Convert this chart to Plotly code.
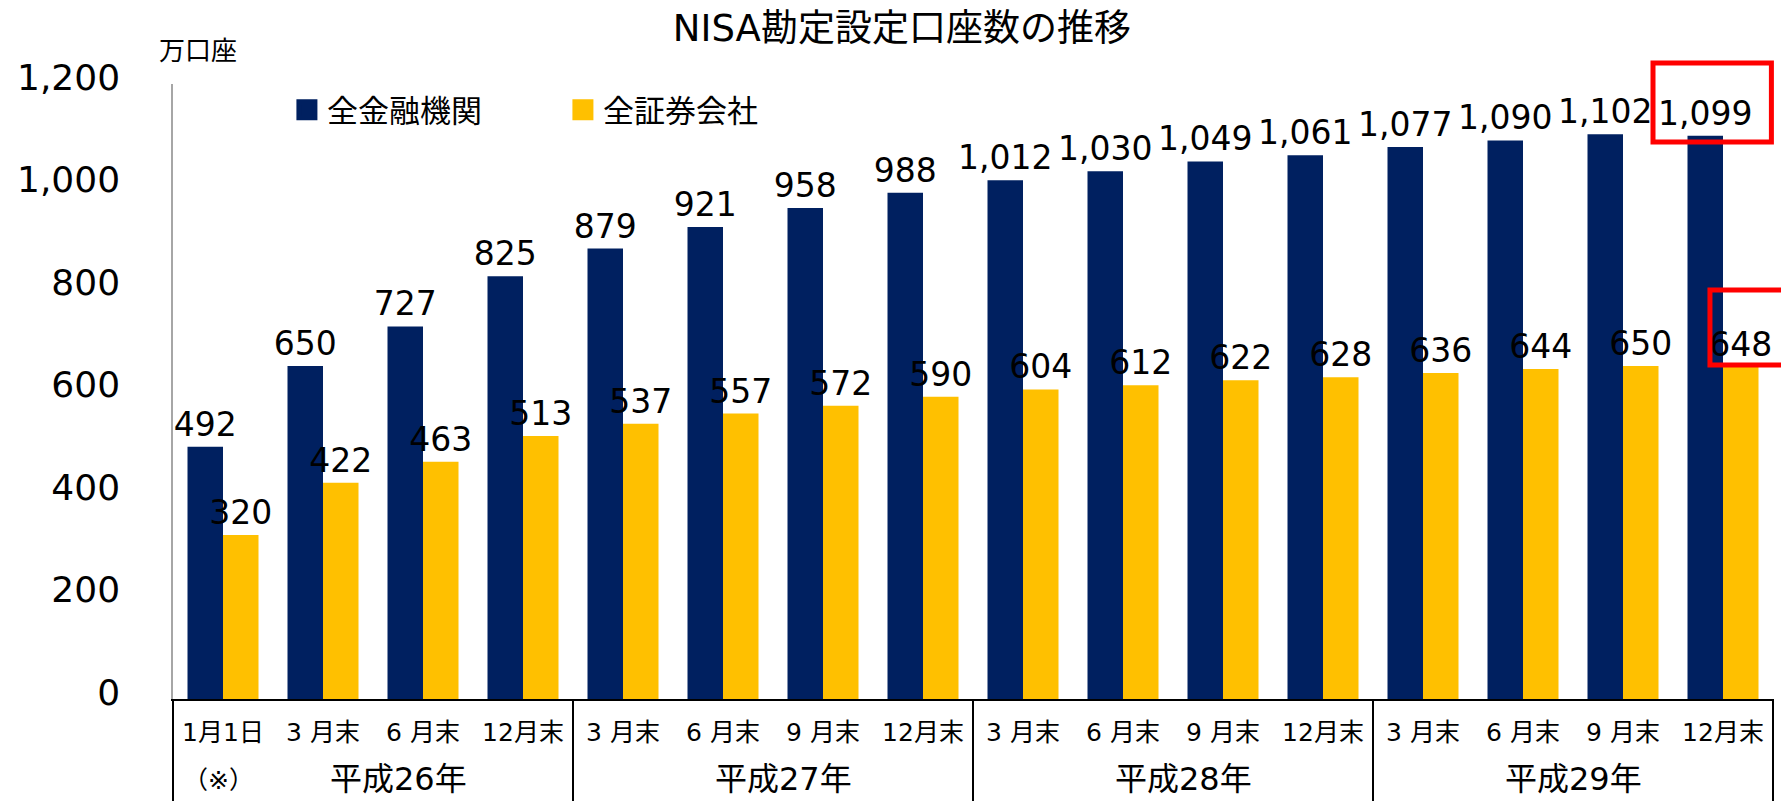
import plotly.graph_objects as go

# ---- data ----
month_labels = ["1月1日", "3 月末", "6 月末", "12月末",
                "3 月末", "6 月末", "9 月末", "12月末",
                "3 月末", "6 月末", "9 月末", "12月末",
                "3 月末", "6 月末", "9 月末", "12月末"]
year_labels = ["平成26年", "平成27年", "平成28年", "平成29年"]
year_sizes = [4, 4, 4, 4]
all_fin = [492, 650, 727, 825, 879, 921, 958, 988, 1012, 1030, 1049, 1061, 1077, 1090, 1102, 1099]
all_sec = [320, 422, 463, 513, 537, 557, 572, 590, 604, 612, 622, 628, 636, 644, 650, 648]
series_names = ["全金融機関", "全証券会社"]
y_ticks = [0, 200, 400, 600, 800, 1000, 1200]

NAVY = "#002060"
GOLD = "#FFC000"
FONT = "DejaVu Sans, Noto Sans CJK JP, sans-serif"

xs = list(range(len(month_labels)))

fig = go.Figure()
for name, vals, col in [(series_names[0], all_fin, NAVY), (series_names[1], all_sec, GOLD)]:
    fig.add_trace(go.Bar(
        x=xs, y=vals, name=name, legendgroup=name, showlegend=False,
        marker=dict(color=col, line=dict(width=0)),
        texttemplate="%{y:,}", textposition="outside", constraintext="none",
        textfont=dict(size=33, color="#000000", family=FONT),
        cliponaxis=False,
    ))
    # legend entry (larger square symbol)
    fig.add_trace(go.Scatter(
        x=[None], y=[None], mode="markers", name=name, legendgroup=name,
        marker=dict(symbol="square", size=16, color=col, line=dict(color=col, width=5)),
    ))

# year group separators and labels
shapes = []
annotations = []
n = len(month_labels)
start = 0
bounds = [0]
for lab, sz in zip(year_labels, year_sizes):
    center = start + (sz - 1) / 2
    if start == 0:
        center += 0.25
    elif start + sz < n:
        center += 0.1
    annotations.append(dict(x=center, xref="x", y=-0.13, yref="paper", text=lab,
                            showarrow=False, xanchor="center", yanchor="middle",
                            font=dict(size=32, family=FONT, color="#000000")))
    start += sz
    bounds.append(start)
for b in bounds:
    shapes.append(dict(type="line", xref="paper", yref="paper",
                       x0=b / n, x1=b / n, y0=0, y1=-0.25,
                       line=dict(color="#000000", width=2)))

annotations.append(dict(x=-0.05, xref="x", y=-0.133, yref="paper", text="（※）",
                        showarrow=False, xanchor="center", yanchor="middle",
                        font=dict(size=25, family=FONT, color="#000000")))
annotations.append(dict(x=0.0155, xref="paper", y=1.054, yref="paper", text="万口座",
                        showarrow=False, xanchor="center", yanchor="middle",
                        font=dict(size=26, family=FONT, color="#000000")))

# red highlight boxes
shapes.append(dict(type="rect", xref="paper", yref="paper",
                   x0=0.925, x1=0.999, y0=0.9057, y1=1.0341,
                   line=dict(color="#FF0000", width=5)))
shapes.append(dict(type="rect", xref="paper", yref="paper",
                   x0=0.9606, x1=1.02, y0=0.5431, y1=0.665,
                   line=dict(color="#FF0000", width=5)))

fig.update_layout(
    width=1781, height=801,
    margin=dict(l=173, r=8, t=84, b=102, autoexpand=False),
    paper_bgcolor="white", plot_bgcolor="white",
    barmode="group", bargap=0.29, bargroupgap=0,
    title=dict(text="NISA勘定設定口座数の推移", x=0.5064, xref="container", xanchor="center",
               y=0.965, yref="container", yanchor="middle",
               font=dict(size=37, family=FONT, color="#000000")),
    font=dict(family=FONT, color="#000000"),
    legend=dict(orientation="h", x=0.1611, xref="container", xanchor="left",
                y=0.8627, yref="container", yanchor="middle",
                font=dict(size=31, family=FONT, color="#000000"),
                entrywidth=231, itemsizing="trace", bgcolor="rgba(0,0,0,0)"),
    xaxis=dict(tickmode="array", tickvals=xs, ticktext=month_labels,
               range=[-0.5, n - 0.5], showgrid=False, zeroline=False,
               showline=True, linecolor="#000000", linewidth=2, ticks="",
               ticklabelstandoff=10,
               tickfont=dict(size=25, family=FONT, color="#000000")),
    yaxis=dict(range=[0, 1200], tickvals=y_ticks, tickformat=",",
               showgrid=False, zeroline=False, showline=True,
               linecolor="#A6A6A6", linewidth=1.5, ticks="",
               ticklabelstandoff=44, ticklabelshift=-7,
               tickfont=dict(size=36, family=FONT, color="#000000")),
    shapes=shapes, annotations=annotations,
)

fig.write_html(
    "out.html",
    config={"displayModeBar": False},
    post_script="document.body.style.margin='0';document.body.style.overflow='hidden';",
)
